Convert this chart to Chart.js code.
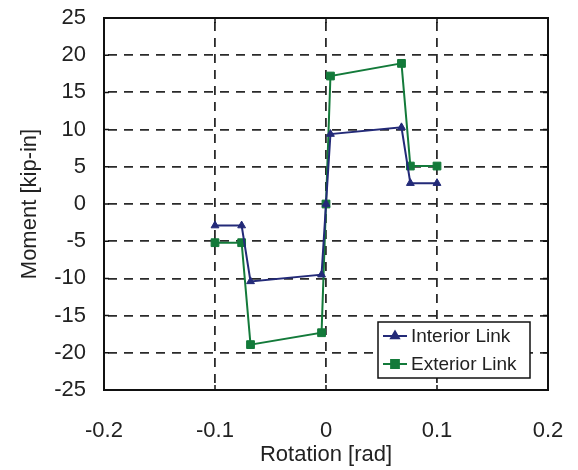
<!DOCTYPE html>
<html>
<head>
<meta charset="utf-8">
<script src="https://cdn.jsdelivr.net/npm/chart.js@4"></script>
<style>
  html, body { margin: 0; padding: 0; background: #fff; }
  #wrap { width: 578px; height: 470px; }
</style>
</head>
<body>
<div id="wrap"><canvas id="momentChart" width="578" height="470"></canvas></div>
<script>
// Rotation [rad] vs Moment [kip-in]
const interiorRotation = [-0.1, -0.076, -0.068, -0.004, 0, 0.004, 0.068, 0.076, 0.1];
const interiorMoment   = [-2.9, -2.9, -10.4, -9.5, 0, 9.4, 10.3, 2.8, 2.8];

const exteriorRotation = [-0.1, -0.076, -0.068, -0.004, 0, 0.004, 0.068, 0.076, 0.1];
const exteriorMoment   = [-5.2, -5.2, -18.9, -17.3, 0, 17.2, 18.9, 5.1, 5.1];

const seriesNames = ['Interior Link', 'Exterior Link'];
const xTicks = [-0.2, -0.1, 0, 0.1, 0.2];
const yTicks = [-25, -20, -15, -10, -5, 0, 5, 10, 15, 20, 25];

const navy = '#232a78';
const green = '#137a3a';
const fontFamily = '"Liberation Sans", Arial, sans-serif';

function toPoints(xs, ys) {
    return xs.map((x, i) => ({ x: x, y: ys[i] }));
}

// frame + inward tick marks + legend box inside the plot
const framePlugin = {
    id: 'frame',
    afterDraw(chart) {
        const ctx = chart.ctx;
        const a = chart.chartArea;
        const xs = chart.scales.x, ys = chart.scales.y;
        ctx.save();
        ctx.strokeStyle = '#111';
        ctx.lineWidth = 2;
        ctx.setLineDash([]);
        ctx.strokeRect(a.left, a.top, a.right - a.left, a.bottom - a.top);
        ctx.lineWidth = 1.5;
        ctx.beginPath();
        xTicks.forEach(v => {
            const px = xs.getPixelForValue(v);
            ctx.moveTo(px, a.bottom); ctx.lineTo(px, a.bottom - 5);
            ctx.moveTo(px, a.top); ctx.lineTo(px, a.top + 5);
        });
        yTicks.forEach(v => {
            const py = ys.getPixelForValue(v);
            ctx.moveTo(a.left, py); ctx.lineTo(a.left + 5, py);
            ctx.moveTo(a.right, py); ctx.lineTo(a.right - 5, py);
        });
        ctx.stroke();

        // legend
        const bx = 378, by = 322, bw = 152, bh = 56;
        ctx.fillStyle = '#fff';
        ctx.fillRect(bx, by, bw, bh);
        ctx.strokeRect(bx, by, bw, bh);
        const items = [
            { label: seriesNames[0], color: navy, style: 'triangle', r: 4.5 },
            { label: seriesNames[1], color: green, style: 'rect', r: 5.5 }
        ];
        ctx.font = '19px ' + fontFamily;
        ctx.textBaseline = 'middle';
        items.forEach((it, i) => {
            const cy = by + 14 + i * 28;
            ctx.strokeStyle = it.color;
            ctx.lineWidth = 2;
            ctx.beginPath();
            ctx.moveTo(bx + 5, cy); ctx.lineTo(bx + 29, cy);
            ctx.stroke();
            ctx.fillStyle = it.color;
            Chart.helpers.drawPoint(ctx, { pointStyle: it.style, radius: it.r, borderWidth: 1 }, bx + 17, cy);
            ctx.fillStyle = '#222';
            ctx.fillText(it.label, bx + 33, cy + 1);
        });
        ctx.restore();
    }
};

const ctx = document.getElementById('momentChart').getContext('2d');
const momentChart = new Chart(ctx, {
    type: 'scatter',
    data: {
        datasets: [
            {
                label: seriesNames[0],
                data: toPoints(interiorRotation, interiorMoment),
                showLine: true,
                borderColor: navy,
                backgroundColor: navy,
                borderWidth: 2,
                pointStyle: 'triangle',
                pointRadius: 4.5,
                pointBorderWidth: 1
            },
            {
                label: seriesNames[1],
                data: toPoints(exteriorRotation, exteriorMoment),
                showLine: true,
                borderColor: green,
                backgroundColor: green,
                borderWidth: 2,
                pointStyle: 'rect',
                pointRadius: 5.5,
                pointBorderWidth: 1
            }
        ]
    },
    options: {
        responsive: false,
        animation: false,
        layout: { autoPadding: false, padding: { top: 18, right: 30, left: 0, bottom: 0 } },
        plugins: {
            legend: { display: false },
            tooltip: { enabled: false }
        },
        scales: {
            x: {
                type: 'linear',
                min: -0.2,
                max: 0.2,
                afterFit: s => { s.height = 80; s.paddingLeft = 0; s.paddingRight = 0; },
                afterBuildTicks: s => { s.ticks = xTicks.map(v => ({ value: v })); },
                ticks: {
                    padding: 28,
                    color: '#222',
                    font: { family: fontFamily, size: 22 },
                    callback: v => String(v)
                },
                grid: {
                    drawTicks: false,
                    color: ctx => (ctx.tick && (ctx.tick.value === -0.2 || ctx.tick.value === 0.2)) ? 'rgba(0,0,0,0)' : '#2a2a2a',
                    lineWidth: 1.8
                },
                border: { display: false, dash: [9, 7], dashOffset: -4 },
                title: {
                    display: true,
                    text: 'Rotation [rad]',
                    color: '#222',
                    font: { family: fontFamily, size: 22 },
                    padding: { top: 0, bottom: 2 }
                }
            },
            y: {
                type: 'linear',
                min: -25,
                max: 25,
                afterFit: s => { s.width = 104; s.paddingTop = 0; s.paddingBottom = 0; },
                afterBuildTicks: s => { s.ticks = yTicks.map(v => ({ value: v })); },
                ticks: {
                    padding: 18,
                    color: '#222',
                    font: { family: fontFamily, size: 22 },
                    callback: v => String(v)
                },
                grid: {
                    drawTicks: false,
                    color: ctx => (ctx.tick && (ctx.tick.value === -25 || ctx.tick.value === 25)) ? 'rgba(0,0,0,0)' : '#2a2a2a',
                    lineWidth: 1.8
                },
                border: { display: false, dash: [9, 7], dashOffset: -4 },
                title: {
                    display: true,
                    text: 'Moment [kip-in]',
                    color: '#222',
                    font: { family: fontFamily, size: 22 },
                    padding: { top: 17, bottom: 0 }
                }
            }
        }
    },
    plugins: [framePlugin]
});
</script>
</body>
</html>
